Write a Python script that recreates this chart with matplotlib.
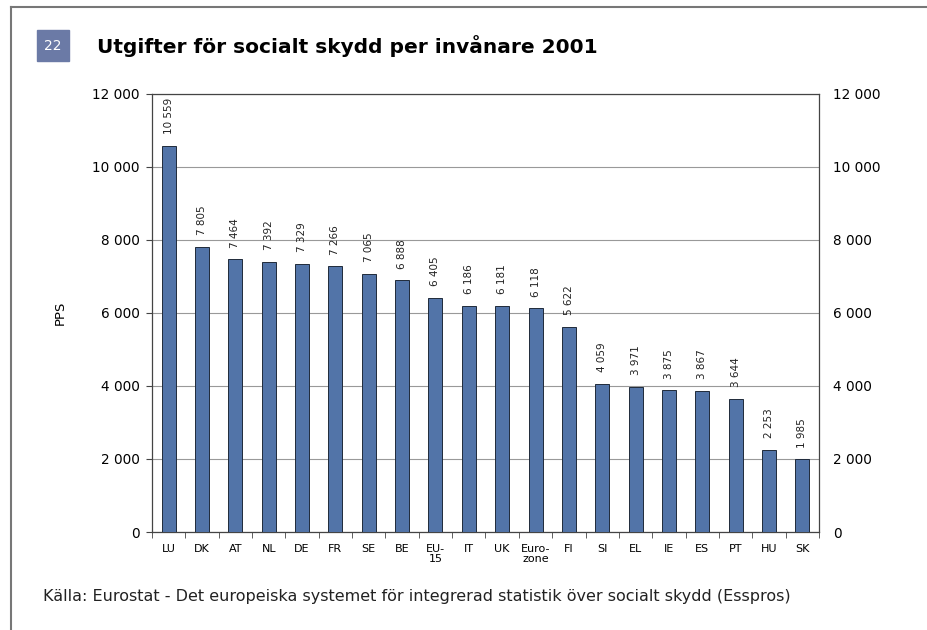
import matplotlib.pyplot as plt
from matplotlib.patches import Rectangle
from matplotlib.lines import Line2D
import numpy as np

countries = ["LU", "DK", "AT", "NL", "DE", "FR", "SE", "BE", "EU-\n15", "IT",
             "UK", "Euro-\nzone", "FI", "SI", "EL", "IE", "ES", "PT", "HU", "SK"]
values = [10559, 7805, 7464, 7392, 7329, 7266, 7065, 6888, 6405, 6186,
          6181, 6118, 5622, 4059, 3971, 3875, 3867, 3644, 2253, 1985]
yticks = [0, 2000, 4000, 6000, 8000, 10000, 12000]


def fmt(v):
    return f"{v:,}".replace(",", " ")


W, H = 928, 630
fig = plt.figure(figsize=(W / 100, H / 100), dpi=100)

# frame lines (top and left)
fig.add_artist(Line2D([11 / W, 1], [1 - 7 / H, 1 - 7 / H], color="#777777", lw=1.5))
fig.add_artist(Line2D([11 / W, 11 / W], [0, 1 - 7 / H], color="#777777", lw=1.5))

# number box + title
fig.add_artist(Rectangle((37 / W, 1 - 61 / H), 32 / W, 31 / H, color="#6B7AA6",
                         transform=fig.transFigure))
fig.text(53 / W, 1 - 46 / H, "22", color="white", fontsize=10, ha="center", va="center")
fig.text(97 / W, 1 - 46 / H, "Utgifter för socialt skydd per invånare 2001",
         fontsize=14.5, fontweight="bold", ha="left", va="center")

left, right, top, bottom = 152, 819, 93.5, 532
ax = fig.add_axes([left / W, 1 - bottom / H, (right - left) / W, (bottom - top) / H])

x = np.arange(len(countries))
ax.bar(x, values, width=0.42, color="#5274A8", edgecolor="#1f2a3a", linewidth=0.7, zorder=3)
for xi, v in zip(x, values):
    ax.text(xi, v + 320, fmt(v), rotation=90, ha="center", va="bottom",
            fontsize=7.5, color="#222222")

ax.set_xlim(-0.5, len(countries) - 0.5)
ax.set_ylim(0, 12000)
ax.set_yticks(yticks)
ax.set_yticklabels([fmt(t) for t in yticks], fontsize=9.8)
ax.grid(axis="y", color="#999999", lw=0.8, zorder=0)
ax.set_xticks(x)
ax.set_xticklabels(countries, fontsize=8, linespacing=1.0)
ax.tick_params(axis="x", length=0, pad=9)
ax.set_xticks(np.arange(len(countries) + 1) - 0.5, minor=True)
ax.tick_params(axis="x", which="minor", length=4, color="#444444")
ax.tick_params(axis="y", length=4, color="#444444", pad=5)
for s in ["left", "bottom", "top", "right"]:
    ax.spines[s].set_color("#444444")
    ax.spines[s].set_linewidth(0.9)
ax.set_ylabel("PPS", fontsize=9.5, labelpad=18)

ax2 = ax.twinx()
ax2.set_ylim(0, 12000)
ax2.set_yticks(yticks)
ax2.set_yticklabels([fmt(t) for t in yticks], fontsize=9.8)
ax2.tick_params(axis="y", length=0, pad=10)
for s in ["left", "bottom", "top", "right"]:
    ax2.spines[s].set_visible(False)

fig.text(43 / W, 1 - 596 / H,
         "Källa: Eurostat - Det europeiska systemet för integrerad statistik över socialt skydd (Esspros)",
         fontsize=11.5, ha="left", va="center", color="#222222")

fig.savefig("out.png", dpi=100)
